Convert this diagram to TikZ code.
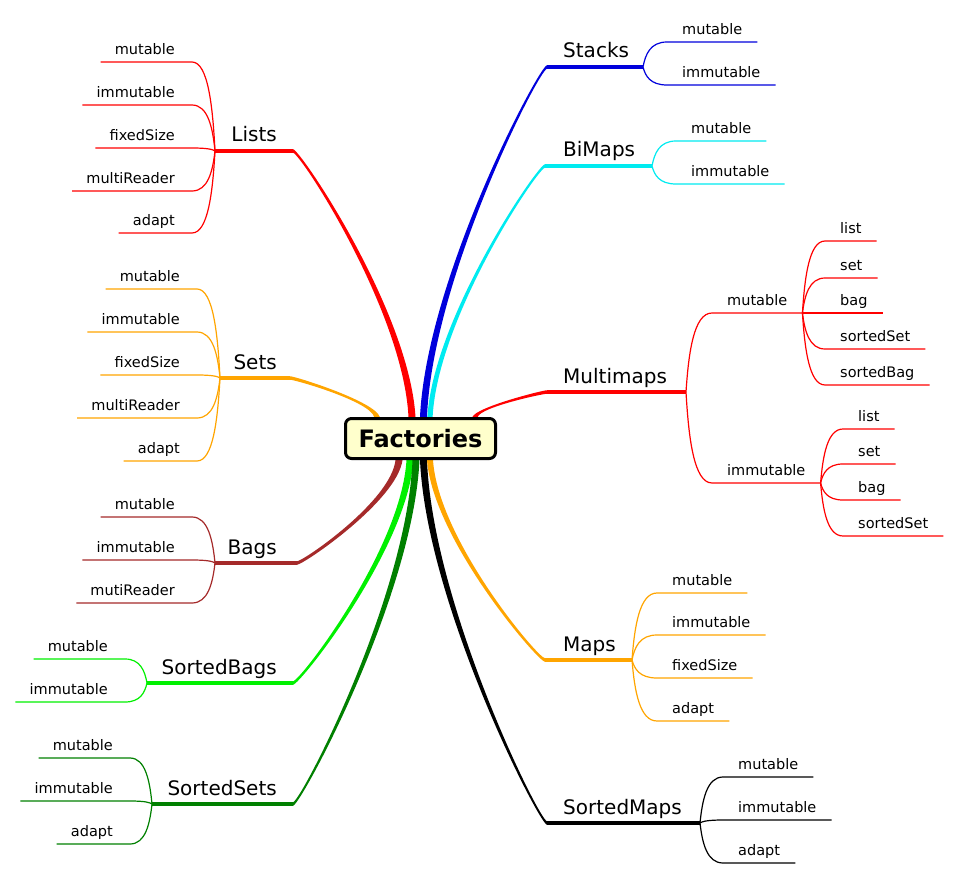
\documentclass[tikz,border=0pt]{standalone}
\usepackage{fontspec}
\setmainfont{DejaVu Sans}
\usetikzlibrary{calc,backgrounds}
\definecolor{cRed}{RGB}{255,0,0}
\definecolor{cOrange}{RGB}{255,165,0}
\definecolor{cBlue}{RGB}{0,0,220}
\definecolor{cCyan}{RGB}{0,235,240}
\definecolor{cBrown}{RGB}{165,42,42}
\definecolor{cLime}{RGB}{0,240,0}
\definecolor{cDGreen}{RGB}{0,128,0}
\definecolor{rootfill}{RGB}{255,255,204}
\tikzset{
  kidtext/.style={inner sep=0pt, font=\fontsize{14.5}{17}\selectfont},
  branchtext/.style={inner sep=0pt, font=\fontsize{20}{24}\selectfont},
  kidline/.style={line width=1.2pt},
  branchline/.style={line width=3.5pt},
  rootbox/.style={draw=black, line width=3pt, rounded corners=6pt, fill=rootfill,
    minimum width=150pt, minimum height=40pt, inner sep=0pt,
    font=\fontsize{24}{28}\selectfont\bfseries},
}
% tapered trunk from the root to the start of a branch line
\newcommand\trunk[4][3.5]{%
  \fill[#2] let \p1=(#3), \p2=(#4), \n1={sign(\x2-\x1)*sign(\y2-\y1)} in
    ({\x1-#1pt},\y1) .. controls ({\x1+0.05*(\x2-\x1)-0.85*#1pt},{\y1+0.4*(\y2-\y1)})
      and ({\x2-0.06*(\x2-\x1)},{\y2+\n1*1.75pt}) .. (\x2,{\y2+\n1*1.75pt})
    -- (\x2,{\y2-\n1*1.75pt}) .. controls ({\x2-0.06*(\x2-\x1)},{\y2-\n1*1.75pt})
      and ({\x1+0.05*(\x2-\x1)+0.85*#1pt},{\y1+0.4*(\y2-\y1)}) .. ({\x1+#1pt},\y1) -- cycle;}
% thin child connector: fan point -> curve end -> line end
\newcommand\kidcurve[4]{%
  \draw[#1, kidline] let \p1=(#2), \p2=(#3) in
    (\p1) .. controls ({\x1+0.1*(\x2-\x1)},{\y1+0.5*(\y2-\y1)})
      and ({\x1+0.3*(\x2-\x1)},\y2) .. (\p2) -- (#4);}
% right-side child: #1 colour, #2 fan, #3 name, #4 x start, #5 y, #6 text
\newcommand\rkid[6]{%
  \coordinate (#3-c) at (#4,#5);
  \node[kidtext, anchor=base west] (#3) at (#4+15,#5-7.5) {#6};
  \coordinate (#3-e) at ($(#3-c -| #3.east)+(15,0)$);
  \kidcurve{#1}{#2}{#3-c}{#3-e}}
% left-side child
\newcommand\lkid[6]{%
  \coordinate (#3-c) at (#4,#5);
  \node[kidtext, anchor=base east] (#3) at (#4-17,#5-7.5) {#6};
  \coordinate (#3-e) at ($(#3-c -| #3.west)+(-14,0)$);
  \kidcurve{#1}{#2}{#3-c}{#3-e}}
\begin{document}
\begin{tikzpicture}[x=1pt,y=-1pt]
\useasboundingbox (0,0) rectangle (958,877);
% root
\node[rootbox] (root) at (420.5,438.5) {Factories};
\coordinate (r-sets)   at ($(root.north)+(-43.5,0)$);
\coordinate (r-lists)  at ($(root.north)+(-8.5,0)$);
\coordinate (r-stacks) at ($(root.north)+(3,0)$);
\coordinate (r-bimaps) at ($(root.north)+(9.5,0)$);
\coordinate (r-mm)     at ($(root.north)+(54.5,0)$);
\coordinate (r-bags)   at ($(root.south)+(-21.5,0)$);
\coordinate (r-sbags)  at ($(root.south)+(-10.5,0)$);
\coordinate (r-ssets)  at ($(root.south)+(-4.5,0)$);
\coordinate (r-smaps)  at ($(root.south)+(3,0)$);
\coordinate (r-maps)   at ($(root.south)+(9.5,0)$);
% branch line starts and fan points
\coordinate (lists-s)  at (293,151); \coordinate (lists-f)  at (215,151);
\coordinate (sets-s)   at (290,378); \coordinate (sets-f)   at (220,378);
\coordinate (bags-s)   at (297,563); \coordinate (bags-f)   at (215,563);
\coordinate (sbags-s)  at (293,683); \coordinate (sbags-f)  at (147,683);
\coordinate (ssets-s)  at (293,804); \coordinate (ssets-f)  at (152,804);
\coordinate (stacks-s) at (547,67);  \coordinate (stacks-f) at (643,67);
\coordinate (bimaps-s) at (545,166); \coordinate (bimaps-f) at (652,166);
\coordinate (mm-s)     at (547,392); \coordinate (mm-f)     at (686,392);
\coordinate (maps-s)   at (545,660); \coordinate (maps-f)   at (632,660);
\coordinate (smaps-s)  at (547,823); \coordinate (smaps-f)  at (700,823);
% trunks under the root box
\begin{scope}[on background layer]
  \fill[white] (0,0) rectangle (958,877);
  \trunk{cRed}{r-lists}{lists-s}
  \trunk{cBlue}{r-stacks}{stacks-s}
  \trunk[2.6]{cCyan}{r-bimaps}{bimaps-s}
  \trunk[2.6]{cRed}{r-mm}{mm-s}
  \trunk[2.8]{cOrange}{r-sets}{sets-s}
  \trunk{cBrown}{r-bags}{bags-s}
  \trunk{cLime}{r-sbags}{sbags-s}
  \trunk{cDGreen}{r-ssets}{ssets-s}
  \trunk{black}{r-smaps}{smaps-s}
  \trunk[3]{cOrange}{r-maps}{maps-s}
\end{scope}
% branch lines
\draw[cRed, branchline]    (lists-s) -- (lists-f);
\draw[cOrange, branchline] (sets-s) -- (sets-f);
\draw[cBrown, branchline]  (bags-s) -- (bags-f);
\draw[cLime, branchline]   (sbags-s) -- (sbags-f);
\draw[cDGreen, branchline] (ssets-s) -- (ssets-f);
\draw[cBlue, branchline]   (stacks-s) -- (stacks-f);
\draw[cCyan, branchline]   (bimaps-s) -- (bimaps-f);
\draw[cRed, branchline]    (mm-s) -- (mm-f);
\draw[cOrange, branchline] (maps-s) -- (maps-f);
\draw[black, branchline]   (smaps-s) -- (smaps-f);
% branch labels
\node[branchtext, anchor=base east] (lists) at (277,142) {Lists};
\node[branchtext, anchor=base east] (sets)  at (277,369) {Sets};
\node[branchtext, anchor=base east] (bags)  at (277,554) {Bags};
\node[branchtext, anchor=base east] (sbags) at (277,674) {SortedBags};
\node[branchtext, anchor=base east] (ssets) at (277,795) {SortedSets};
\node[branchtext, anchor=base west] (stacks) at (563,58)  {Stacks};
\node[branchtext, anchor=base west] (bimaps) at (563,157) {BiMaps};
\node[branchtext, anchor=base west] (mm)     at (563,383) {Multimaps};
\node[branchtext, anchor=base west] (maps)   at (563,651) {Maps};
\node[branchtext, anchor=base west] (smaps)  at (563,814) {SortedMaps};
% Lists
\lkid{cRed}{lists-f}{li-mut}{192}{62}{mutable}
\lkid{cRed}{lists-f}{li-imm}{192}{105}{immutable}
\lkid{cRed}{lists-f}{li-fix}{192}{148}{fixedSize}
\lkid{cRed}{lists-f}{li-mr}{192}{191}{multiReader}
\lkid{cRed}{lists-f}{li-ad}{192}{233}{adapt}
% Sets
\lkid{cOrange}{sets-f}{se-mut}{197}{289}{mutable}
\lkid{cOrange}{sets-f}{se-imm}{197}{332}{immutable}
\lkid{cOrange}{sets-f}{se-fix}{197}{375}{fixedSize}
\lkid{cOrange}{sets-f}{se-mr}{197}{418}{multiReader}
\lkid{cOrange}{sets-f}{se-ad}{197}{461}{adapt}
% Bags
\lkid{cBrown}{bags-f}{ba-mut}{192}{517}{mutable}
\lkid{cBrown}{bags-f}{ba-imm}{192}{560}{immutable}
\lkid{cBrown}{bags-f}{ba-mr}{192}{603}{mutiReader}
% SortedBags
\lkid{cLime}{sbags-f}{sb-mut}{125}{659}{mutable}
\lkid{cLime}{sbags-f}{sb-imm}{125}{702}{immutable}
% SortedSets
\lkid{cDGreen}{ssets-f}{ss-mut}{130}{758}{mutable}
\lkid{cDGreen}{ssets-f}{ss-imm}{130}{801}{immutable}
\lkid{cDGreen}{ssets-f}{ss-ad}{130}{844}{adapt}
% Stacks
\rkid{cBlue}{stacks-f}{st-mut}{667}{42}{mutable}
\rkid{cBlue}{stacks-f}{st-imm}{667}{85}{immutable}
% BiMaps
\rkid{cCyan}{bimaps-f}{bi-mut}{676}{141}{mutable}
\rkid{cCyan}{bimaps-f}{bi-imm}{676}{184}{immutable}
% Multimaps
\rkid{cRed}{mm-f}{mm-mut}{712}{313}{mutable}
\rkid{cRed}{mm-f}{mm-imm}{712}{483}{immutable}
\rkid{cRed}{mm-mut-e}{mmm-list}{825}{241}{list}
\rkid{cRed}{mm-mut-e}{mmm-set}{825}{278}{set}
\rkid{cRed}{mm-mut-e}{mmm-bag}{825}{313}{bag}
\rkid{cRed}{mm-mut-e}{mmm-sset}{825}{349}{sortedSet}
\rkid{cRed}{mm-mut-e}{mmm-sbag}{825}{385}{sortedBag}
\rkid{cRed}{mm-imm-e}{mmi-list}{843}{429}{list}
\rkid{cRed}{mm-imm-e}{mmi-set}{843}{464}{set}
\rkid{cRed}{mm-imm-e}{mmi-bag}{843}{500}{bag}
\rkid{cRed}{mm-imm-e}{mmi-sset}{843}{536}{sortedSet}
% Maps
\rkid{cOrange}{maps-f}{ma-mut}{657}{593}{mutable}
\rkid{cOrange}{maps-f}{ma-imm}{657}{635}{immutable}
\rkid{cOrange}{maps-f}{ma-fix}{657}{678}{fixedSize}
\rkid{cOrange}{maps-f}{ma-ad}{657}{721}{adapt}
% SortedMaps
\rkid{black}{smaps-f}{sm-mut}{723}{777}{mutable}
\rkid{black}{smaps-f}{sm-imm}{723}{820}{immutable}
\rkid{black}{smaps-f}{sm-ad}{723}{863}{adapt}
\end{tikzpicture}
\end{document}
